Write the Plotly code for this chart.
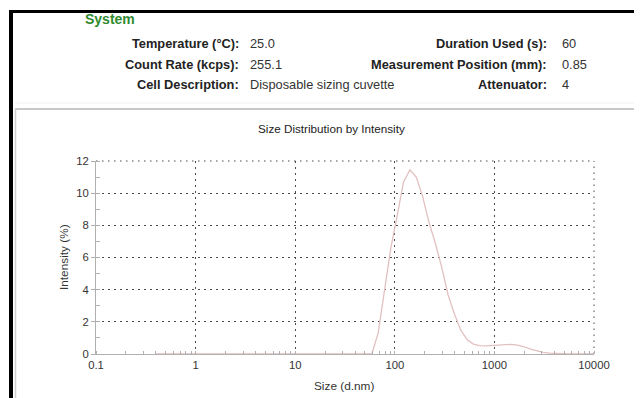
import plotly.graph_objects as go

# ---- data ----
sizes_nm = [0.4, 1.0, 5.0, 20.0, 50.75, 58.77, 68.06, 78.82, 91.28, 105.7, 122.4, 141.8,
            164.2, 190.1, 220.2, 255.0, 295.3, 342.0, 396.1, 458.7, 531.2, 615.1,
            712.4, 825.0, 955.4, 1106, 1281, 1484, 1718, 1990, 2305, 2669, 3091,
            3580, 4145, 4801, 5560, 7500, 10000]
intensity_pct = [0, 0, 0, 0, 0, 0, 1.3, 3.8, 6.6, 8.6, 10.7, 11.45,
                 11.0, 9.8, 8.2, 6.9, 5.4, 3.7, 2.5, 1.5, 0.9, 0.62,
                 0.52, 0.5, 0.52, 0.55, 0.58, 0.6, 0.55, 0.45, 0.3, 0.18, 0.1,
                 0.05, 0.02, 0, 0, 0, 0]
x_tickvals = [0.1, 1, 10, 100, 1000, 10000]
x_ticktext = ["0.1", "1", "10", "100", "1000", "10000"]
y_tickvals = [0, 2, 4, 6, 8, 10, 12]

header_left = [("Temperature (°C):", "25.0"),
               ("Count Rate (kcps):", "255.1"),
               ("Cell Description:", "Disposable sizing cuvette")]
header_right = [("Duration Used (s):", "60"),
                ("Measurement Position (mm):", "0.85"),
                ("Attenuator:", "4")]

OFF = 8  # page body margin
W, H = 642 - OFF, 398 - OFF
# plot area in page px
L, R, T, B = 96, 594, 161, 354

def px(xp):
    return (xp - L) / (R - L)

def py(yp):
    return (B - yp) / (B - T)

FONT = "Liberation Sans, Arial, sans-serif"
HF = 12.8

fig = go.Figure()
fig.add_trace(go.Scatter(x=sizes_nm, y=intensity_pct, mode="lines",
                         line=dict(color="#e2c0c0", width=1.3),
                         cliponaxis=False, hoverinfo="x+y"))

GRIDC = "#4a4a4a"
GRIDDASH = "1.5px,4.5px"
grid = dict(showgrid=True, gridcolor=GRIDC, gridwidth=1, griddash=GRIDDASH)

fig.update_layout(
    width=W, height=H,
    margin=dict(l=L - OFF, r=W - (R - OFF), t=T - OFF, b=H - (B - OFF), pad=0),
    paper_bgcolor="white", plot_bgcolor="white",
    showlegend=False,
    font=dict(family=FONT, size=11, color="#333333"),
    xaxis=dict(type="log", range=[-1, 4], tickvals=x_tickvals, ticktext=x_ticktext,
               showline=True, linecolor="#b0b0b0", linewidth=1,
               ticks="", zeroline=False,
               tickfont=dict(size=11.3, color="#333333"),
               minor=dict(ticks="inside", ticklen=3, tickcolor="#b0b0b0",
                          dtick="D1", showgrid=False),
               **grid),
    yaxis=dict(range=[0, 12], tickvals=y_tickvals,
               showline=True, linecolor="#b0b0b0", linewidth=1,
               ticks="outside", ticklen=4, tickcolor="#b0b0b0",
               zeroline=False,
               tickfont=dict(size=11.3, color="#333333"),
               minor=dict(ticks="inside", ticklen=4, tickcolor="#b0b0b0",
                          dtick=1, showgrid=False),
               **grid),
)

shapes = []
# dotted grid at the top and right edges of the plot
shapes.append(dict(type="line", xref="paper", yref="paper", x0=0, x1=1, y0=1, y1=1,
                   line=dict(color=GRIDC, width=1, dash=GRIDDASH), layer="below"))
shapes.append(dict(type="line", xref="paper", yref="paper", x0=1, x1=1, y0=0, y1=1,
                   line=dict(color=GRIDC, width=1, dash=GRIDDASH), layer="below"))
# black frame lines
shapes.append(dict(type="rect", xref="paper", yref="paper",
                   x0=px(9), x1=px(13), y0=py(10), y1=py(H + OFF + 5),
                   fillcolor="black", line=dict(width=0), layer="above"))
shapes.append(dict(type="rect", xref="paper", yref="paper",
                   x0=px(9), x1=px(W + OFF + 5), y0=py(10), y1=py(13),
                   fillcolor="black", line=dict(width=0), layer="above"))
# light gray panel borders
shapes.append(dict(type="line", xref="paper", yref="paper",
                   x0=px(15), x1=px(W + OFF + 5), y0=py(109), y1=py(109),
                   line=dict(color="#c8c8c8", width=2), layer="above"))
shapes.append(dict(type="line", xref="paper", yref="paper",
                   x0=px(15.5), x1=px(15.5), y0=py(109), y1=py(H + OFF + 5),
                   line=dict(color="#d0d0d0", width=1.5), layer="above"))
shapes.append(dict(type="line", xref="paper", yref="paper",
                   x0=px(15), x1=px(W + OFF + 5), y0=py(103), y1=py(103),
                   line=dict(color="#f0f0f0", width=1), layer="below"))
fig.update_layout(shapes=shapes)

ann = []
ann.append(dict(text="<b>System</b>", x=px(83), y=py(19), xref="paper", yref="paper",
                xanchor="left", yanchor="middle", showarrow=False,
                font=dict(size=14, color="#2f8a2f", family=FONT)))
rows_y = [43, 64, 85]
for (lab, val), yy in zip(header_left, rows_y):
    ann.append(dict(text="<b>" + lab + "</b>", x=px(241), y=py(yy), xref="paper", yref="paper",
                    xanchor="right", yanchor="middle", showarrow=False,
                    font=dict(size=HF, color="#222222", family=FONT)))
    ann.append(dict(text=val, x=px(248), y=py(yy), xref="paper", yref="paper",
                    xanchor="left", yanchor="middle", showarrow=False,
                    font=dict(size=HF, color="#333333", family=FONT)))
for (lab, val), yy in zip(header_right, rows_y):
    ann.append(dict(text="<b>" + lab + "</b>", x=px(549), y=py(yy), xref="paper", yref="paper",
                    xanchor="right", yanchor="middle", showarrow=False,
                    font=dict(size=HF, color="#222222", family=FONT)))
    ann.append(dict(text=val, x=px(560), y=py(yy), xref="paper", yref="paper",
                    xanchor="left", yanchor="middle", showarrow=False,
                    font=dict(size=HF, color="#333333", family=FONT)))
ann.append(dict(text="Size Distribution by Intensity", x=px(331), y=py(128),
                xref="paper", yref="paper", xanchor="center", yanchor="middle",
                showarrow=False, font=dict(size=11.7, color="#222222", family=FONT)))
ann.append(dict(text="Size (d.nm)", x=px(344), y=py(386),
                xref="paper", yref="paper", xanchor="center", yanchor="middle",
                showarrow=False, font=dict(size=11.8, color="#333333", family=FONT)))
ann.append(dict(text="Intensity (%)", x=px(64), y=py(257), textangle=-90,
                xref="paper", yref="paper", xanchor="center", yanchor="middle",
                showarrow=False, font=dict(size=11.8, color="#333333", family=FONT)))
fig.update_layout(annotations=ann)

fig.write_html("out.html")
